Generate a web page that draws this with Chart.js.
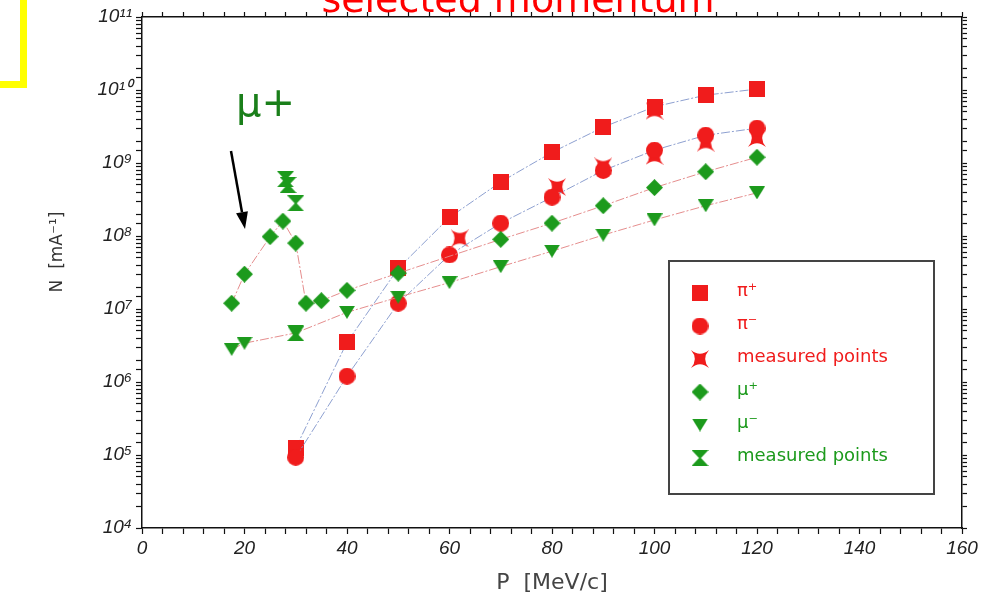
<!DOCTYPE html>
<html>
<head>
<meta charset="utf-8">
<script src="https://cdn.jsdelivr.net/npm/chart.js@4/dist/chart.umd.min.js"></script>
<style>
  html, body { margin: 0; padding: 0; background: #fff; }
  #wrap { width: 986px; height: 600px; }
</style>
</head>
<body>
<div id="wrap"><canvas id="myChart" width="986" height="600"></canvas></div>
<script>
(() => {
  'use strict';

  // Series: momentum P [MeV/c] and yield N [mA^-1]
  const piPlusP = [30, 40, 50, 60, 70, 80, 90, 100, 110, 120];
  const piPlusN = [1.25e5, 3.5e6, 3.6e7, 1.8e8, 5.5e8, 1.4e9, 3.1e9, 5.9e9, 8.5e9, 1.03e10];

  const piMinusP = [30, 40, 50, 60, 70, 80, 90, 100, 110, 120];
  const piMinusN = [9.3e4, 1.2e6, 1.2e7, 5.5e7, 1.5e8, 3.4e8, 7.9e8, 1.5e9, 2.4e9, 3.0e9];

  const piMeasP = [62, 81, 90, 100, 100, 110, 120];
  const piMeasN = [9.3e7, 4.7e8, 9.0e8, 5.2e9, 1.25e9, 1.9e9, 2.2e9];

  const muPlusP = [17.5, 20, 25, 27.5, 30, 32, 35, 40, 50, 70, 80, 90, 100, 110, 120];
  const muPlusN = [1.2e7, 3.0e7, 9.8e7, 1.6e8, 8.0e7, 1.2e7, 1.3e7, 1.8e7, 3.1e7, 9.0e7, 1.5e8, 2.6e8, 4.6e8, 7.6e8, 1.2e9];

  const muMinusP = [17.5, 20, 30, 40, 50, 60, 70, 80, 90, 100, 110, 120];
  const muMinusN = [2.8e6, 3.4e6, 4.7e6, 9.0e6, 1.45e7, 2.3e7, 3.8e7, 6.2e7, 1.03e8, 1.66e8, 2.6e8, 3.9e8];

  const muMeasP = [28, 28.5, 30, 30];
  const muMeasN = [6.0e8, 5.0e8, 2.8e8, 4.7e6];

  const seriesLabels = ['π⁺', 'π⁻', 'measured points', 'μ⁺', 'μ⁻', 'measured points'];

  // Tick labels
  const xLabelled = [0, 20, 40, 60, 80, 100, 120, 140, 160];
  const yDecades = [4, 5, 6, 7, 8, 9, 10, 11];

  const RED = '#f01c1c';
  const GREEN = '#1c9a1c';
  const BLUE_LINE = 'rgba(135,155,205,0.95)';
  const PINK_LINE = 'rgba(228,135,135,0.95)';
  const TICK_FONT = '"Liberation Sans", Arial, sans-serif';
  const STROKE_FONT = '"DejaVu Sans", sans-serif';

  const toPoints = (ps, ns) => ps.map((p, i) => ({ x: p, y: ns[i] }));

  const SUP = '⁰¹²³⁴⁵⁶⁷⁸⁹';
  const sup = n => String(n).split('').map(d => SUP[+d]).join('');

  // Marker images
  function makeMarker(shape, color, w, h) {
    const c = document.createElement('canvas');
    c.width = w;
    c.height = h;
    const g = c.getContext('2d');
    g.fillStyle = color;
    g.beginPath();
    const cx = w / 2, cy = h / 2;
    if (shape === 'square') {
      g.rect(0, 0, w, h);
    } else if (shape === 'circle') {
      g.arc(cx, cy, w / 2, 0, Math.PI * 2);
    } else if (shape === 'star') {
      const k = 0.85;
      g.moveTo(0, 0);
      g.quadraticCurveTo(cx, cy * k, w, 0);
      g.quadraticCurveTo(w - cx * k, cy, w, h);
      g.quadraticCurveTo(cx, h - cy * k, 0, h);
      g.quadraticCurveTo(cx * k, cy, 0, 0);
    } else if (shape === 'diamond') {
      g.moveTo(cx, 0);
      g.lineTo(w, cy);
      g.lineTo(cx, h);
      g.lineTo(0, cy);
    } else if (shape === 'triDown') {
      g.moveTo(0, 0);
      g.lineTo(w, 0);
      g.lineTo(cx, h);
    } else if (shape === 'hourglass') {
      g.moveTo(0, 0);
      g.lineTo(w, 0);
      g.lineTo(cx + 1, cy);
      g.lineTo(w, h);
      g.lineTo(0, h);
      g.lineTo(cx - 1, cy);
    }
    g.closePath();
    g.fill();
    return c;
  }

  const markers = [
    makeMarker('square', RED, 16, 16),
    makeMarker('circle', RED, 17, 17),
    makeMarker('star', RED, 18, 18),
    makeMarker('diamond', GREEN, 17, 17),
    makeMarker('triDown', GREEN, 16, 13),
    makeMarker('hourglass', GREEN, 17, 16)
  ];

  const lineDash = [9, 2, 2, 2];

  function series(i, ps, ns, lineColor, order) {
    return {
      label: seriesLabels[i],
      data: toPoints(ps, ns),
      pointStyle: markers[i],
      pointRadius: 8,
      pointHoverRadius: 8,
      showLine: !!lineColor,
      borderColor: lineColor || 'transparent',
      borderWidth: 1,
      borderDash: lineDash,
      tension: 0,
      order: order,
      textColor: i < 3 ? RED : GREEN
    };
  }

  // Overlay: title, frame, arrow, legend
  const overlay = {
    id: 'overlay',
    afterDraw(chart) {
      const c = chart.ctx;
      c.save();

      // yellow frame corner
      c.fillStyle = '#ffff00';
      c.fillRect(20, 0, 7, 88);
      c.fillRect(0, 81, 27, 7);

      // title, cut off at the top edge
      c.fillStyle = '#ff0000';
      c.textAlign = 'center';
      c.textBaseline = 'alphabetic';
      const title = 'selected momentum';
      c.font = '34px ' + STROKE_FONT;
      const tw = c.measureText(title).width;
      const size = Math.round(34 * 392 / tw);
      c.font = size + 'px ' + STROKE_FONT;
      c.fillText(title, 518, 12);

      // y axis title
      c.save();
      c.translate(58, 252);
      c.rotate(-Math.PI / 2);
      c.fillStyle = '#333';
      c.font = '17px ' + STROKE_FONT;
      c.textAlign = 'center';
      c.textBaseline = 'middle';
      c.fillText('N  [mA⁻¹]', 0, 0);
      c.restore();

      // mu+ note and arrow
      c.fillStyle = '#1a7f1a';
      c.font = '40px ' + STROKE_FONT;
      c.textAlign = 'left';
      c.fillText('μ+', 236, 116);

      const x0 = 231, y0 = 151, x1 = 245, y1 = 229;
      const len = Math.hypot(x1 - x0, y1 - y0);
      const dx = (x1 - x0) / len, dy = (y1 - y0) / len;
      const hl = 17, hw = 6;
      const bx = x1 - dx * hl, by = y1 - dy * hl;
      c.strokeStyle = '#000';
      c.lineWidth = 2.5;
      c.beginPath();
      c.moveTo(x0, y0);
      c.lineTo(bx, by);
      c.stroke();
      c.fillStyle = '#000';
      c.beginPath();
      c.moveTo(x1, y1);
      c.lineTo(bx - dy * hw, by + dx * hw);
      c.lineTo(bx + dy * hw, by - dx * hw);
      c.closePath();
      c.fill();

      // legend box
      c.strokeStyle = '#444';
      c.lineWidth = 2;
      c.strokeRect(669, 261, 265, 233);
      c.font = '18px ' + STROKE_FONT;
      c.textBaseline = 'middle';
      chart.data.datasets.forEach((ds, i) => {
        const y = 293 + i * 33;
        const img = ds.pointStyle;
        c.drawImage(img, 700 - img.width / 2, y - img.height / 2);
        c.fillStyle = ds.textColor;
        c.fillText(ds.label, 737, y - 2);
      });

      c.restore();
    }
  };

  const ctx = document.getElementById('myChart');

  new Chart(ctx, {
    type: 'scatter',
    data: {
      datasets: [
        series(0, piPlusP, piPlusN, BLUE_LINE, 4),
        series(1, piMinusP, piMinusN, BLUE_LINE, 3),
        series(2, piMeasP, piMeasN, null, 5),
        series(3, muPlusP, muPlusN, PINK_LINE, 2),
        series(4, muMinusP, muMinusN, PINK_LINE, 1),
        series(5, muMeasP, muMeasN, null, 0)
      ]
    },
    options: {
      responsive: false,
      animation: false,
      layout: { padding: 0 },
      plugins: {
        legend: { display: false },
        tooltip: { enabled: false }
      },
      scales: {
        x: {
          type: 'linear',
          position: 'bottom',
          min: 0,
          max: 160,
          ticks: {
            stepSize: 4,
            autoSkip: false,
            maxRotation: 0,
            padding: 3,
            color: '#222',
            font: { family: TICK_FONT, size: 19, style: 'italic' },
            callback: v => xLabelled.includes(v) ? String(v) : ''
          },
          grid: { drawOnChartArea: false, tickLength: 6, tickColor: '#111', tickWidth: 1.2 },
          border: { color: '#111', width: 1.5 },
          title: {
            display: true,
            text: 'P  [MeV/c]',
            color: '#444',
            font: { family: STROKE_FONT, size: 22 },
            padding: { top: 0, bottom: 4 }
          },
          afterFit: s => { s.height = 72; }
        },
        xTop: {
          type: 'linear',
          position: 'top',
          min: 0,
          max: 160,
          ticks: { display: false, stepSize: 4, autoSkip: false },
          grid: { drawOnChartArea: false, tickLength: 5, tickColor: '#111', tickWidth: 1.2 },
          border: { color: '#111', width: 1.5 },
          afterFit: s => { s.height = 17; }
        },
        y: {
          type: 'logarithmic',
          position: 'left',
          min: Math.pow(10, yDecades[0]),
          max: Math.pow(10, yDecades[yDecades.length - 1]),
          ticks: {
            autoSkip: false,
            padding: 4,
            color: '#222',
            font: { family: TICK_FONT, size: 19, style: 'italic' },
            callback: v => {
              const e = Math.round(Math.log10(v));
              const isDecade = Math.abs(v - Math.pow(10, e)) < 1e-6 * v;
              return isDecade && yDecades.includes(e) ? '10' + sup(e) : '';
            }
          },
          grid: { drawOnChartArea: false, tickLength: 6, tickColor: '#111', tickWidth: 1.2 },
          border: { color: '#111', width: 1.5 },
          afterFit: s => { s.width = 142; }
        },
        yRight: {
          type: 'logarithmic',
          position: 'right',
          min: Math.pow(10, yDecades[0]),
          max: Math.pow(10, yDecades[yDecades.length - 1]),
          ticks: { display: false, autoSkip: false },
          grid: { drawOnChartArea: false, tickLength: 5, tickColor: '#111', tickWidth: 1.2 },
          border: { color: '#111', width: 1.5 },
          afterFit: s => { s.width = 24; }
        }
      }
    },
    plugins: [overlay]
  });
})();
</script>
</body>
</html>
